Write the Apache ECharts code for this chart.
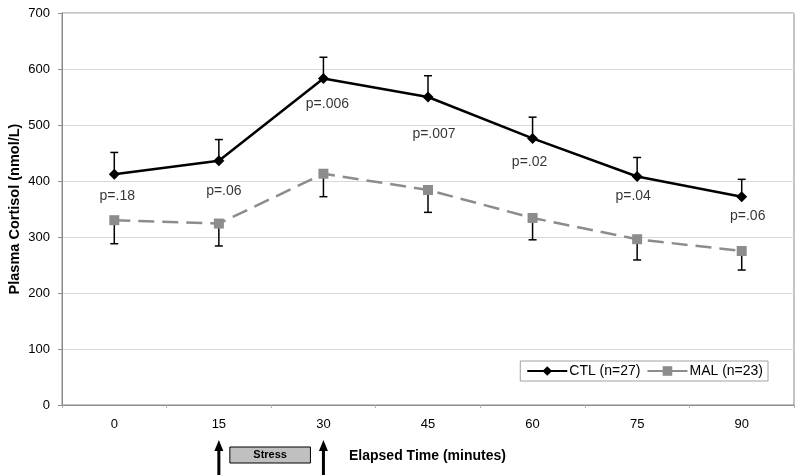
<!DOCTYPE html>
<html>
<head>
<meta charset="utf-8">
<script src="https://cdn.jsdelivr.net/npm/echarts@6/dist/echarts.min.js"></script>
<style>
html,body{margin:0;padding:0;background:#fff;}
#main{width:800px;height:475px;}
</style>
</head>
<body>
<div id="main"></div>
<script>
// ---- data ----
const categories = ['0', '15', '30', '45', '60', '75', '90'];
const ctlMean = [412, 436, 583, 550, 476, 408, 372];
const ctlUpper = [451, 474, 621, 588, 514, 442, 403];
const malMean = [330, 324, 413, 384, 334, 296, 275];
const malLower = [288, 284, 372, 344, 295, 259, 241];
const pLabels = ['p=.18', 'p=.06', 'p=.006', 'p=.007', 'p=.02', 'p=.04', 'p=.06'];
const pLabelY = [373, 382, 537, 484, 434, 373, 338];
const yTicks = { min: 0, max: 700, interval: 100 };
const seriesNames = ['CTL (n=27)', 'MAL (n=23)'];
const stressStart = '15';
const stressEnd = '30';

// ---- layout / style (not data) ----
const pLabelDx = [3, 5, 4, 6, -3, -4, 6];
const FONT = "'Liberation Sans', Arial, sans-serif";

const chart = echarts.init(document.getElementById('main'), null, { renderer: 'canvas' });

function errRender(color) {
  return function (params, api) {
    const p0 = api.coord([api.value(0), api.value(1)]);
    const p1 = api.coord([api.value(0), api.value(2)]);
    const cap = 4;
    return {
      type: 'group',
      children: [
        { type: 'line', shape: { x1: p0[0], y1: p0[1], x2: p1[0], y2: p1[1] }, style: { stroke: color, lineWidth: 1.5 } },
        { type: 'line', shape: { x1: p1[0] - cap, y1: p1[1], x2: p1[0] + cap, y2: p1[1] }, style: { stroke: color, lineWidth: 1.5 } }
      ]
    };
  };
}

const option = {
  animation: false,
  backgroundColor: '#ffffff',
  textStyle: { fontFamily: FONT },
  grid: { left: 62, right: 6, top: 13, bottom: 70, show: true, borderColor: '#8a8a8a', borderWidth: 1, outerBoundsMode: 'none', containLabel: false },
  legend: {
    data: [
      { name: seriesNames[0] },
      { name: seriesNames[1], lineStyle: { type: 'solid' } }
    ],
    right: 32, top: 361,
    itemWidth: 40, itemHeight: 12, itemGap: 6,
    padding: [3, 5, 3, 6],
    borderColor: '#a0a0a0', borderWidth: 1, borderRadius: 0,
    textStyle: { fontSize: 14, color: '#000', fontFamily: FONT, padding: [0, 0, 0, -3] }
  },
  xAxis: {
    type: 'category',
    data: categories,
    boundaryGap: true,
    axisLine: { lineStyle: { color: '#8a8a8a', width: 1 } },
    axisTick: { show: true, length: 3, lineStyle: { color: '#b0b0b0' } },
    axisLabel: { fontSize: 13, color: '#000', margin: 13, fontFamily: FONT },
    splitLine: { show: false }
  },
  yAxis: {
    type: 'value',
    min: yTicks.min, max: yTicks.max, interval: yTicks.interval,
    name: 'Plasma Cortisol (nmol/L)',
    nameLocation: 'middle',
    nameGap: 40,
    nameMoveOverlap: false,
    nameTextStyle: { fontSize: 14.5, fontWeight: 'bold', color: '#000', fontFamily: FONT },
    axisLine: { show: true, lineStyle: { color: '#8a8a8a', width: 1 } },
    axisTick: { show: true, length: 4, lineStyle: { color: '#8a8a8a' } },
    axisLabel: { fontSize: 13, color: '#000', margin: 12, fontFamily: FONT },
    splitLine: { show: true, lineStyle: { color: '#d9d9d9', width: 1 } }
  },
  series: [
    {
      name: seriesNames[0] + ' err',
      type: 'custom',
      renderItem: errRender('#000'),
      data: categories.map((c, i) => [i, ctlMean[i], ctlUpper[i]]),
      z: 1, silent: true
    },
    {
      name: seriesNames[1] + ' err',
      type: 'custom',
      renderItem: errRender('#000'),
      data: categories.map((c, i) => [i, malMean[i], malLower[i]]),
      z: 1, silent: true
    },
    {
      name: seriesNames[1],
      type: 'line',
      data: malMean,
      symbol: 'rect', symbolSize: 10,
      itemStyle: { color: '#8c8c8c' },
      lineStyle: { color: '#8c8c8c', width: 2.5, type: [16, 8] },
      z: 3
    },
    {
      name: seriesNames[0],
      type: 'line',
      data: ctlMean,
      symbol: 'diamond', symbolSize: 11,
      itemStyle: { color: '#000' },
      lineStyle: { color: '#000', width: 2.5 },
      z: 4
    },
    {
      name: 'p',
      type: 'scatter',
      symbolSize: 0,
      data: categories.map((c, i) => ({
        value: [i, pLabelY[i]],
        label: { offset: [pLabelDx[i], 0] }
      })),
      label: {
        show: true, position: 'inside',
        formatter: (p) => pLabels[p.dataIndex],
        fontSize: 14, color: '#000', fontFamily: FONT
      },
      silent: true, z: 5
    }
  ]
};
chart.setOption(option);

// annotations below the axis, anchored to the category positions
const xs = chart.convertToPixel({ xAxisIndex: 0 }, stressStart);
const xe = chart.convertToPixel({ xAxisIndex: 0 }, stressEnd);
function arrow(x) {
  return {
    type: 'group',
    children: [
      { type: 'rect', shape: { x: x - 1.5, y: 449, width: 3, height: 26 }, style: { fill: '#000' } },
      { type: 'polygon', shape: { points: [[x, 440], [x - 4.5, 451], [x + 4.5, 451]] }, style: { fill: '#000' } }
    ]
  };
}
chart.setOption({
  graphic: [
    arrow(xs),
    arrow(xe),
    { type: 'rect', shape: { x: xs + 11, y: 447, width: (xe - xs) - 24, height: 16 }, style: { fill: '#c0c0c0', stroke: '#000', lineWidth: 1 } },
    { type: 'text', x: (xs + xe) / 2 - 1, y: 455, style: { text: 'Stress', font: "bold 11px " + FONT, fill: '#000', textAlign: 'center', textVerticalAlign: 'middle' } },
    { type: 'text', x: 349, y: 456, style: { text: 'Elapsed Time (minutes)', font: "bold 14px " + FONT, fill: '#000', textAlign: 'left', textVerticalAlign: 'middle' } }
  ]
});
</script>
</body>
</html>
